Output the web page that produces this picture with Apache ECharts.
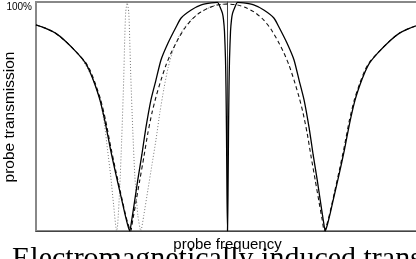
<!DOCTYPE html>
<html>
<head>
<meta charset="utf-8">
<script src="https://cdn.jsdelivr.net/npm/echarts@6/dist/echarts.min.js"></script>
<style>
  html, body { margin: 0; padding: 0; background: #fff; }
  #chart { width: 416px; height: 259px; }
</style>
</head>
<body>
<div id="chart"></div>
<script>
// probe detuning (arbitrary units, 0 = line centre) and transmission in %
var solidFreq = [-190, -181, -171, -161, -149, -141, -136, -131, -126, -121, -116, -111, -106, -102, -99, -97,
  -95, -92, -89, -85, -81, -76, -71, -66, -59, -51, -46, -36, -26, -16, -10, -7, -5, -4, -3, -2, -1.5, -1, -0.5, 0,
  0.5, 1, 1.5, 2, 3, 4, 5, 7, 10, 16, 26, 36, 46, 51, 59, 66, 71, 76, 81, 85, 89, 92, 95,
  97, 99, 102, 106, 111, 116, 121, 126, 131, 136, 141, 149, 161, 171, 181, 190];
var solidTrans = [90.0, 88.6, 86.5, 83.0, 77.7, 73.4, 69.0, 63.3, 56.3, 46.7, 35.4, 25.3, 15.7, 7.9, 2.6, 0,
  4.8, 13.5, 22.3, 33.2, 45.0, 57.2, 65.9, 74.7, 82.1, 89.1, 93.0, 96.5, 98.7, 99.6, 99.8, 97.4, 95.0, 92.4, 87.2, 75.2, 63, 43, 16, 0,
  16, 43, 63, 75.2, 87.2, 92.4, 95.0, 97.4, 99.8, 99.6, 98.7, 96.5, 93.0, 89.1, 82.1, 74.7, 65.9, 57.2, 45.0, 33.2, 22.3, 13.5, 4.8,
  0, 2.6, 7.9, 15.7, 25.3, 35.4, 46.7, 56.3, 63.3, 69.0, 73.4, 77.7, 83.0, 86.5, 88.6, 90.0];

var dashFreq = [-190, -181, -171, -161, -149, -141, -136, -131, -126, -121, -116, -111, -106, -102, -99, -96,
  -94, -91, -87, -83, -79, -75, -71, -66, -61, -56, -50, -43, -36, -28, -19, -10, 0,
  10, 19, 28, 36, 43, 50, 56, 61, 66, 71, 75, 79, 83, 87, 91, 94,
  96, 99, 102, 106, 111, 116, 121, 126, 131, 136, 141, 149, 161, 171, 181, 190];
var dashTrans = [90.0, 88.6, 86.5, 83.0, 77.7, 73.8, 69.9, 64.2, 57.6, 48.5, 37.1, 26.6, 16.6, 8.7, 3.5, 0,
  4.8, 12.2, 22.3, 32.3, 42.8, 51.5, 58.5, 65.9, 72.5, 77.7, 83.0, 88.2, 92.1, 95.2, 97.4, 98.7, 99.1,
  98.7, 97.4, 95.2, 92.1, 88.2, 83.0, 77.7, 72.5, 65.9, 58.5, 51.5, 42.8, 32.3, 22.3, 12.2, 4.8,
  0, 3.5, 8.7, 16.6, 26.6, 37.1, 48.5, 57.6, 64.2, 69.9, 73.8, 77.7, 83.0, 86.5, 88.6, 90.0];

var dotFreq = [-190, -176, -161, -146, -136, -131, -126, -122, -119, -116, -113, -110, -109, -107, -105, -103,
  -102, -101, -99.5, -98, -97, -96, -94, -92, -89, -86, -83, -79, -75, -71, -67, -63, -59, -54, -48, -40,
  -31, -21, -11, 0];
var dotTrans = [90.0, 87.8, 83.0, 76.0, 68.6, 63.3, 56.3, 46.3, 35.4, 24.5, 11.4, 0, 2.6, 17.9, 39.7, 65.9,
  83.4, 95.6, 99.6, 95.6, 83.4, 68.1, 44.1, 24.5, 7.0, 0, 7.0, 17.9, 28.8, 39.7, 52.0, 62.4, 71.2, 79.0, 85.2, 90.4,
  94.3, 96.9, 98.7, 99.1];

function pairs(xs, ys) {
  return xs.map(function (x, i) { return [x, ys[i]]; });
}

var myChart = echarts.init(document.getElementById('chart'), null, { renderer: 'canvas' });
var sans = '"Liberation Sans", Arial, sans-serif';

var option = {
  animation: false,
  grid: {
    left: 36, right: -3, top: 2, bottom: 28,
    outerBoundsMode: 'none',
    containLabel: false,
    show: true, borderColor: '#888', borderWidth: 2
  },
  xAxis: {
    type: 'value', min: -190, max: 190,
    axisLine: { show: true, onZero: false, lineStyle: { color: '#444', width: 1 } },
    axisTick: { show: false },
    axisLabel: { show: false },
    splitLine: { show: false },
    name: 'probe frequency',
    nameLocation: 'middle',
    nameGap: 6,
    nameTextStyle: { fontFamily: sans, fontSize: 15, color: '#000' }
  },
  yAxis: {
    type: 'value', min: 0, max: 100, interval: 100,
    axisLine: { show: true, lineStyle: { color: '#444', width: 1 } },
    axisTick: { show: false },
    axisLabel: {
      margin: 4, fontFamily: sans, fontSize: 10, color: '#000', verticalAlign: 'top',
      formatter: function (v) { return v === 100 ? '100%' : ''; }
    },
    splitLine: { show: false }
  },
  series: [
    {
      type: 'line', data: pairs(dotFreq, dotTrans), showSymbol: false, smooth: 0.2, z: 1,
      lineStyle: { color: '#777', width: 1, type: [1, 2] }
    },
    {
      type: 'line', data: pairs(dashFreq, dashTrans), showSymbol: false, smooth: 0.2, z: 2,
      lineStyle: { color: '#111', width: 1.1, type: [4, 3] }
    },
    {
      type: 'line', data: pairs(solidFreq, solidTrans), showSymbol: false, smooth: 0.2, z: 3,
      lineStyle: { color: '#000', width: 1.3 }
    }
  ],
  graphic: [
    {
      // y axis title, drawn by hand so it sits close to the left edge
      type: 'text', x: 10, y: 117, rotation: Math.PI / 2,
      style: {
        text: 'probe transmission',
        font: '15.5px "Liberation Sans", Arial, sans-serif',
        fill: '#000', align: 'center', verticalAlign: 'middle'
      }
    },
    {
      type: 'text', left: 12, top: 244,
      style: {
        text: 'Electromagnetically induced transparency',
        font: '30px "Liberation Serif", "Times New Roman", serif',
        fill: '#000'
      }
    }
  ]
};
myChart.setOption(option);
</script>
</body>
</html>
